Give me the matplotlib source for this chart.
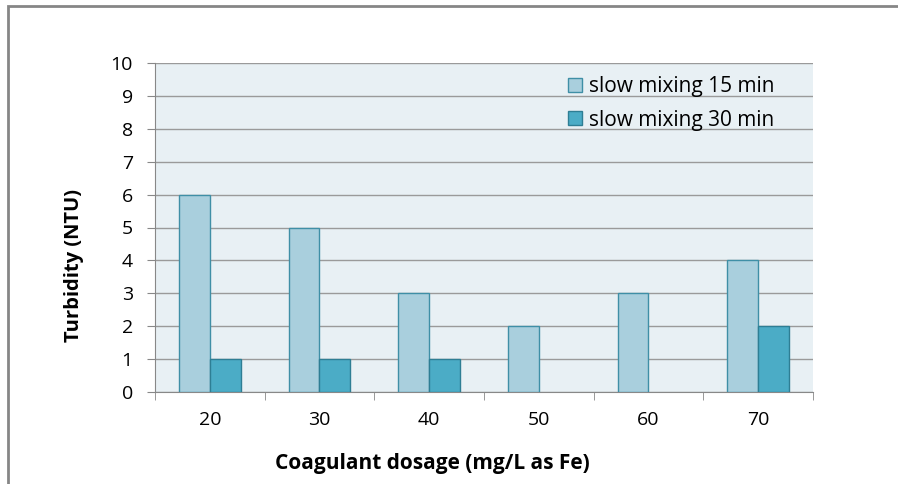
import matplotlib
matplotlib.use("Agg")
import matplotlib.pyplot as plt
import numpy as np
from matplotlib.patches import Rectangle

plt.rcParams['font.family'] = ['Open Sans', 'DejaVu Sans']

dosage = ['20', '30', '40', '50', '60', '70']
mix_15 = [6, 5, 3, 2, 3, 4]
mix_30 = [1, 1, 1, 0, 0, 2]

fig = plt.figure(figsize=(8.98, 4.84), dpi=100)
ax = fig.add_axes([155 / 898, 92 / 484, 658 / 898, 329 / 484])

x = np.arange(len(dosage))
w = 0.28
b1 = ax.bar(x - w / 2, mix_15, w, color='#A9CFDD', edgecolor='#3F8FA6', linewidth=1,
            label='slow mixing 15 min', zorder=3)
b2 = ax.bar(x + w / 2, mix_30, w, color='#4BACC6', edgecolor='#2E7E94', linewidth=1,
            label='slow mixing 30 min', zorder=3)
# no outline for empty bars
for bars, vals in [(b1, mix_15), (b2, mix_30)]:
    for p, v in zip(bars, vals):
        if v == 0:
            p.set_linewidth(0)

ax.set_facecolor('#E8F0F4')
ax.set_xlim(-0.5, len(dosage) - 0.5)
ax.set_ylim(0, 10)
ax.set_yticks(range(11))
ax.yaxis.grid(True, color='#9A9A9A', linewidth=1, zorder=0)
ax.set_xticks(x)
ax.set_xticklabels(dosage, fontsize=14)
ax.set_xticks(np.arange(-0.5, len(dosage)), minor=True)
ax.tick_params(axis='x', which='major', length=0, pad=14)
ax.tick_params(axis='x', which='minor', length=6, color='#888888')
ax.tick_params(axis='y', length=6, color='#888888', labelsize=14, pad=10)
for s in ['top', 'right']:
    ax.spines[s].set_visible(False)
for s in ['left', 'bottom']:
    ax.spines[s].set_color('#888888')

ax.set_xlabel('Coagulant dosage (mg/L as Fe)', fontsize=15, fontweight='bold')
ax.set_ylabel('Turbidity (NTU)', fontsize=14.5, fontweight='bold')
ax.xaxis.set_label_coords(0.421, -0.185)
ax.yaxis.set_label_coords(-0.108, 0.386)

leg = ax.legend(loc='upper left', frameon=False, fontsize=15, handlelength=0.65,
                handleheight=0.65, handletextpad=0.35, labelspacing=0.6,
                borderaxespad=0, borderpad=0,
                bbox_to_anchor=(413 / 658, 0.96))

# outer chart frame, cut off at the right and bottom edges
fig.patches.append(Rectangle((8 / 898, -0.05), 1.0, 1 - 6 / 484 + 0.05,
                             transform=fig.transFigure, fill=False,
                             edgecolor='#868686', linewidth=2))

fig.savefig('out.png', dpi=100)
